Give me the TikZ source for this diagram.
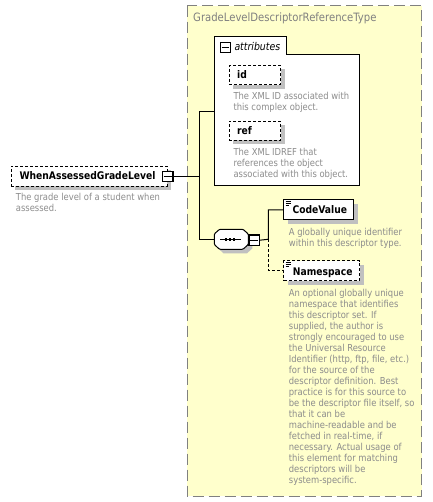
\documentclass[tikz,border=0pt]{standalone}
\usepackage{fontspec}
\setmainfont{DejaVu Sans}[FakeStretch=0.875]
\usetikzlibrary{shadows}
\definecolor{yel}{RGB}{255,255,204}
\definecolor{bordergray}{RGB}{128,128,128}
\definecolor{descgray}{RGB}{140,140,140}
\definecolor{shadowgray}{RGB}{192,192,192}
\tikzset{
  elbox/.style={draw=black, fill=white, line width=1pt, inner sep=0pt, anchor=north west,
    drop shadow={shadow xshift=4pt, shadow yshift=-4pt, fill=shadowgray, opacity=1}},
  optbox/.style={elbox, dash pattern=on 3pt off 2pt},
  nametext/.style={font=\bfseries\fontsize{10.5}{12}\selectfont, inner sep=0pt, anchor=base west},
  desc/.style={font=\fontsize{9.6}{11}\selectfont, text=descgray, align=left, inner sep=0pt, anchor=base west},
  minusbox/.style={draw=black, fill=white, line width=1.3pt, inner sep=0pt, anchor=north west},
  conn/.style={draw=black, line width=1pt},
  optconn/.style={conn, dash pattern=on 3pt off 2pt},
  icon/.style={draw=black, line width=0.8pt}
}
\begin{document}
\begin{tikzpicture}[x=1pt,y=-1pt]
\useasboundingbox (0,0) rectangle (432,502);
% complex type container
\draw[fill=yel, draw=bordergray, line width=1pt, dash pattern=on 11pt off 5pt] (187,5.7) rectangle (421.7,496);
\node[font=\fontsize{11.5}{13}\selectfont, text=bordergray, inner sep=0pt, anchor=base west] (title) at (193,22) {GradeLevelDescriptorReferenceType};
% attributes box
\draw[fill=white, line width=1pt] (214,36.7) -- (286,36.7) -- (286,55) -- (359,55) -- (359,186) -- (214,186) -- cycle;
\node[draw=black, fill=white, line width=1pt, inner sep=0pt, minimum width=10pt, minimum height=10pt, anchor=north west] (aminus) at (219.5,42) {};
\draw[line width=1pt] ([xshift=2pt]aminus.west) -- ([xshift=-2pt]aminus.east);
\node[font=\itshape\fontsize{10.7}{12}\selectfont, inner sep=0pt, anchor=base west] (attrt) at (234.3,50.7) {attributes};
\coordinate (attrL) at (214,111.7);
% id
\node[optbox, minimum width=51.3pt, minimum height=19.3pt] (id) at (228.7,65) {};
\node[nametext] (idt) at (237,79) {id};
\node[desc] (idd) at (233.3,111) {The XML ID associated with\\this complex object.};
% ref
\node[optbox, minimum width=51.3pt, minimum height=19.3pt] (ref) at (228.7,120.7) {};
\node[nametext] (reft) at (237,135) {ref};
\node[desc] (refd) at (233.3,178) {The XML IDREF that\\references the object\\associated with this object.};
% main element
\node[optbox, minimum width=156pt, minimum height=20pt] (main) at (10.7,165.7) {};
\node[nametext] (maint) at (19.3,180) {WhenAssessedGradeLevel};
\node[minusbox, minimum width=10.6pt, minimum height=10.3pt] (mminus) at (161.7,170.7) {};
\draw[line width=1pt] ([xshift=2pt]mminus.west) -- ([xshift=-2pt]mminus.east);
\node[desc] (maind) at (15.7,212) {The grade level of a student when\\assessed.};
% sequence
\fill[shadowgray] (218.3,238) -- (223.5,233.3) -- (247,233.3) -- (252.3,238) -- (252.3,248.5) -- (247,253.3) -- (223.5,253.3) -- (218.3,248.5) -- cycle;
\draw[fill=white, line width=1pt, rounded corners=1pt] (214.3,234) -- (219.5,229.3) -- (243,229.3) -- (248.3,234) -- (248.3,244.5) -- (243,249.3) -- (219.5,249.3) -- (214.3,244.5) -- cycle;
\coordinate (seqW) at (214.3,239.3);
\draw[line width=1pt] (220,239.3) -- (241,239.3);
\foreach \dx in {226,230,234} \fill (\dx-1.3,238) rectangle (\dx+1.3,240.6);
\node[minusbox, minimum width=10.6pt, minimum height=10.6pt] (sminus) at (248.3,234.2) {};
\draw[line width=1pt] ([xshift=2pt]sminus.west) -- ([xshift=-2pt]sminus.east);
% CodeValue
\node[elbox, minimum width=70pt, minimum height=20pt] (cv) at (283.3,199.3) {};
\draw[icon] (285.5,201.3) -- (290.5,201.3) (285.5,203.3) -- (290.5,203.3) (285.5,205.3) -- (289,205.3);
\node[nametext] (cvt) at (292.3,214) {CodeValue};
\node[desc] (cvd) at (288.7,246) {A globally unique identifier\\within this descriptor type.};
% Namespace
\node[optbox, minimum width=75.7pt, minimum height=19.7pt] (ns) at (283.3,260.3) {};
\draw[icon] (285.5,262.3) -- (290.5,262.3) (285.5,264.3) -- (290.5,264.3) (285.5,266.3) -- (289,266.3);
\node[nametext] (nst) at (292.7,275.3) {Namespace};
\node[desc] (nsd) at (288.7,483) {An optional globally unique\\namespace that identifies\\this descriptor set. If\\supplied, the author is\\strongly encouraged to use\\the Universal Resource\\Identifier (http, ftp, file, etc.)\\for the source of the\\descriptor definition. Best\\practice is for this source to\\be the descriptor file itself, so\\that it can be\\machine-readable and be\\fetched in real-time, if\\necessary. Actual usage of\\this element for matching\\descriptors will be\\system-specific.};
% connectors
\coordinate (jA) at (199.3,111.7);
\coordinate (jS) at (199.3,239.3);
\coordinate (jC) at (268.3,239.3);
\draw[conn] (mminus.east) -| (jA) -- (attrL);
\draw[conn] (mminus.east) -| (jS) -- (seqW);
\draw[conn] (sminus.east) -- (jC) |- (cv.west);
\draw[optconn] (jC) |- (ns.west);
\end{tikzpicture}
\end{document}
